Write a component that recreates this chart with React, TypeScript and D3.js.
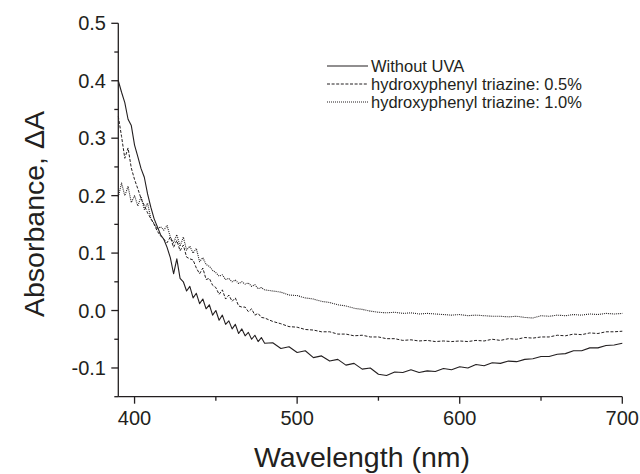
import React from "react";
import * as d3 from "d3";

const wavelengths = [
  390, 392, 394, 396, 398, 400, 402, 404, 406, 408, 410, 412, 414, 416, 418, 420, 422, 424, 426, 428,
  430, 432, 434, 436, 438, 440, 442, 444, 446, 448, 450, 452, 454, 456, 458, 460, 462, 464, 466, 468,
  470, 472, 474, 476, 478, 480, 485, 490, 495, 500, 505, 510, 515, 520, 525, 530, 535, 540, 545, 550,
  555, 560, 565, 570, 575, 580, 585, 590, 595, 600, 605, 610, 615, 620, 625, 630, 635, 640, 645, 650,
  655, 660, 665, 670, 675, 680, 685, 690, 695, 700,
];

const withoutUVA = [
  0.4, 0.38, 0.362, 0.333, 0.322, 0.288, 0.268, 0.247, 0.232, 0.203, 0.18, 0.16, 0.146, 0.132, 0.124, 0.11, 0.092, 0.064, 0.09, 0.056,
  0.05, 0.034, 0.042, 0.022, 0.03, 0.012, 0.02, 0.003, 0.01, -0.008, 0.0, -0.017, -0.008, -0.024, -0.018, -0.032, -0.024, -0.04, -0.032, -0.044,
  -0.038, -0.05, -0.043, -0.054, -0.047, -0.057, -0.056, -0.066, -0.063, -0.073, -0.07, -0.082, -0.079, -0.088, -0.085, -0.095, -0.092, -0.102, -0.1, -0.111,
  -0.113, -0.107, -0.108, -0.103, -0.108, -0.105, -0.106, -0.101, -0.103, -0.098, -0.1, -0.094, -0.096, -0.091, -0.092, -0.088, -0.089, -0.085, -0.084, -0.08,
  -0.08, -0.076, -0.075, -0.07, -0.07, -0.065, -0.065, -0.061, -0.06, -0.057,
];

const triazine05 = [
  0.338, 0.303, 0.265, 0.283, 0.248, 0.228, 0.212, 0.195, 0.183, 0.17, 0.16, 0.15, 0.138, 0.13, 0.124, 0.118, 0.128, 0.11, 0.122, 0.104,
  0.114, 0.093, 0.09, 0.088, 0.074, 0.064, 0.074, 0.054, 0.056, 0.044, 0.04, 0.028, 0.036, 0.02, 0.027, 0.016, 0.022, 0.008, 0.006, 0.006,
  -0.002, 0.003, -0.008, -0.005, -0.012, -0.013, -0.019, -0.023, -0.028, -0.029, -0.033, -0.034, -0.037, -0.037, -0.041, -0.041, -0.044, -0.043, -0.046, -0.046,
  -0.049, -0.049, -0.052, -0.051, -0.053, -0.052, -0.054, -0.053, -0.054, -0.053, -0.054, -0.052, -0.053, -0.05, -0.052, -0.049, -0.05, -0.047, -0.048, -0.046,
  -0.046, -0.043, -0.044, -0.041, -0.042, -0.039, -0.04, -0.037, -0.037, -0.036,
];

const triazine10 = [
  0.198, 0.222, 0.2, 0.216, 0.188, 0.2, 0.182, 0.198, 0.176, 0.187, 0.16, 0.152, 0.142, 0.146, 0.14, 0.148, 0.128, 0.118, 0.132, 0.112,
  0.128, 0.105, 0.112, 0.1, 0.108, 0.085, 0.092, 0.08, 0.077, 0.07, 0.066, 0.06, 0.062, 0.054, 0.056, 0.05, 0.053, 0.047, 0.05, 0.046,
  0.048, 0.042, 0.045, 0.038, 0.04, 0.036, 0.034, 0.032, 0.027, 0.026, 0.022, 0.02, 0.016, 0.014, 0.01, 0.008, 0.004, 0.002, -0.001, -0.003,
  -0.004, -0.003, -0.005, -0.004, -0.006, -0.005, -0.006, -0.007, -0.008, -0.007, -0.009, -0.008, -0.009, -0.01, -0.01, -0.011, -0.01, -0.012, -0.013, -0.009,
  -0.01, -0.008, -0.009, -0.007, -0.008, -0.006, -0.007, -0.005, -0.006, -0.005,
];

const seriesNames = ["Without UVA", "hydroxyphenyl triazine: 0.5%", "hydroxyphenyl triazine: 1.0%"];
const xTickValues = [400, 500, 600, 700];
const xMinorTicks = [450, 550, 650];
const yTickValues = [-0.1, 0.0, 0.1, 0.2, 0.3, 0.4, 0.5];
const yMinorTicks = [-0.15, -0.05, 0.05, 0.15, 0.25, 0.35, 0.45];

const INK = "#231f20";
const FONT = "'Liberation Sans', Arial, Helvetica, sans-serif";

export default function App() {
  const x = d3.scaleLinear().domain([390, 700]).range([118.3, 622.3]);
  const y = d3.scaleLinear().domain([-0.15, 0.5]).range([396.7, 23.3]);

  const seriesData = [withoutUVA, triazine05, triazine10];
  const dashes = [undefined, "3,1.6", "1,1"];
  const widths = [1.1, 1, 1.1];

  const line = d3
    .line<number>()
    .x((_, i) => x(wavelengths[i]))
    .y((d) => y(d));

  const legendY = [66, 84, 102];

  return (
    <svg
      width={640}
      height={474}
      style={{ position: "absolute", left: 0, top: 0, background: "#fff" }}
      fontFamily={FONT}
    >
      <rect width={640} height={474} fill="#fff" />
      {seriesData.map((vals, k) => (
        <path
          key={k}
          d={line(vals) || ""}
          fill="none"
          stroke={INK}
          strokeWidth={widths[k]}
          strokeDasharray={dashes[k]}
          strokeLinejoin="round"
        />
      ))}

      {/* axes */}
      <line x1={x(390)} x2={x(700)} y1={y(-0.15)} y2={y(-0.15)} stroke={INK} strokeWidth={1.3} />
      <line x1={x(390)} x2={x(390)} y1={y(-0.15)} y2={y(0.5)} stroke={INK} strokeWidth={1.3} />

      {xTickValues.map((t) => (
        <g key={"xt" + t}>
          <line x1={x(t)} x2={x(t)} y1={y(-0.15)} y2={y(-0.15) + 7} stroke={INK} strokeWidth={1.3} />
          <text x={x(t)} y={425} textAnchor="middle" fontSize={20} fill={INK}>
            {t}
          </text>
        </g>
      ))}
      {xMinorTicks.map((t) => (
        <line key={"xm" + t} x1={x(t)} x2={x(t)} y1={y(-0.15)} y2={y(-0.15) + 4} stroke={INK} strokeWidth={1.3} />
      ))}
      {yTickValues.map((t) => (
        <g key={"yt" + t}>
          <line x1={x(390) - 7} x2={x(390)} y1={y(t)} y2={y(t)} stroke={INK} strokeWidth={1.3} />
          <text x={106} y={y(t)} dy="0.35em" textAnchor="end" fontSize={20} fill={INK}>
            {d3.format(".1f")(t).replace("−", "-")}
          </text>
        </g>
      ))}
      {yMinorTicks.map((t) => (
        <line key={"ym" + t} x1={x(390) - 4} x2={x(390)} y1={y(t)} y2={y(t)} stroke={INK} strokeWidth={1.3} />
      ))}

      {/* axis titles */}
      <text x={362} y={467} textAnchor="middle" fontSize={28.5} fill={INK}>
        Wavelength (nm)
      </text>
      <text
        transform={`translate(44, ${214}) rotate(-90)`}
        textAnchor="middle"
        fontSize={28.5}
        fill={INK}
      >
        Absorbance, ΔA
      </text>

      {/* legend */}
      {seriesNames.map((name, k) => (
        <g key={name}>
          <line
            x1={327}
            x2={368}
            y1={legendY[k]}
            y2={legendY[k]}
            stroke={INK}
            strokeWidth={widths[k]}
            strokeDasharray={dashes[k]}
          />
          <text x={371} y={legendY[k]} dy="0.35em" fontSize={16.5} fill={INK}>
            {name}
          </text>
        </g>
      ))}
    </svg>
  );
}
